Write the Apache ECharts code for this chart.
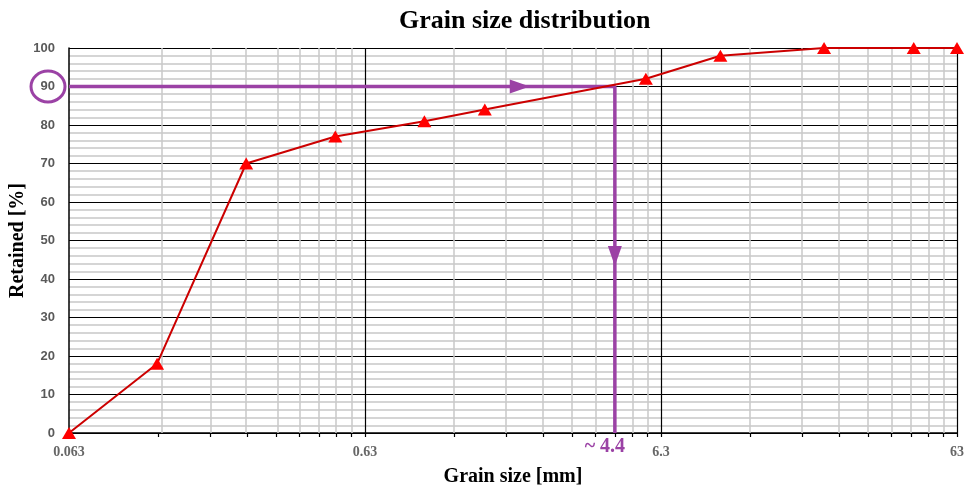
<!DOCTYPE html>
<html>
<head>
<meta charset="utf-8">
<script src="https://cdn.jsdelivr.net/npm/echarts@6/dist/echarts.min.js"></script>
<style>
  html, body { margin: 0; padding: 0; background: #fff; }
  #chart { width: 966px; height: 490px; }
</style>
</head>
<body>
<div id="chart"></div>
<script>
// Sieve sizes [mm] and cumulative retained percentages
const grainSizes = [0.063, 0.125, 0.25, 0.5, 1, 1.6, 5.6, 10, 22.4, 45, 63];
const retained   = [0, 18, 70, 77, 81, 84, 92, 98, 100, 100, 100];

// Decade tick values and their labels on the size axis
const sizeTicks  = [0.063, 0.63, 6.3, 63];
const sizeLabels = ['0.063', '0.63', '6.3', '63'];

// Read-off annotation: 90 % retained reached at about 4.4 mm
const readLevel = 90;
const readSize = 4.4;
const readLabel = '~ 4.4';
const arrowRightAt = [2.1, 90];
const arrowDownAt = [4.4, 46];

const PURPLE = '#9b42a5';
const SERIF = '"Liberation Serif", "Times New Roman", serif';

// Minor positions: 2..9 times each decade start
const minorSizes = [];
for (let d = 0; d < sizeTicks.length - 1; d++) {
  for (let k = 2; k <= 9; k++) minorSizes.push(+(sizeTicks[d] * k).toPrecision(6));
}
const allTicks = sizeTicks.concat(minorSizes).sort((a, b) => a - b);

const gridLines = minorSizes.map(v => ({ xAxis: v, lineStyle: { color: '#c8c8c8', width: 1.5, type: 'solid' } }))
  .concat(sizeTicks.slice(1).map(v => ({ xAxis: v, lineStyle: { color: '#000', width: 1.2, type: 'solid' } })));

function sizeLabel(v) {
  let best = 0;
  sizeTicks.forEach((t, i) => { if (Math.abs(Math.log10(v / t)) < Math.abs(Math.log10(v / sizeTicks[best]))) best = i; });
  return sizeLabels[best];
}

const chart = echarts.init(document.getElementById('chart'), null, { renderer: 'canvas' });
const GRID_LEFT = 69;

chart.setOption({
  animation: false,
  backgroundColor: '#fff',
  title: {
    text: 'Grain size distribution',
    left: 394, top: 3,
    textStyle: { fontFamily: SERIF, fontWeight: 'bold', fontSize: 26, color: '#000' }
  },
  grid: { left: GRID_LEFT, right: 9, top: 48, bottom: 57, outerBoundsMode: 'none', containLabel: false },
  xAxis: {
    type: 'log',
    logBase: 10,
    min: sizeTicks[0],
    max: sizeTicks[sizeTicks.length - 1],
    name: 'Grain size [mm]',
    nameLocation: 'middle',
    nameGap: 34,
    nameMoveOverlap: false,
    nameTextStyle: { fontFamily: SERIF, fontWeight: 'bold', fontSize: 20, color: '#000' },
    axisLine: { show: true, onZero: false, lineStyle: { color: '#000', width: 1.5 } },
    axisTick: { show: true, customValues: allTicks, length: 4, lineStyle: { color: '#000', width: 1.2 } },
    axisLabel: {
      customValues: sizeTicks, margin: 12, formatter: v => sizeLabel(v),
      fontFamily: SERIF, fontWeight: 'bold', fontSize: 14, color: '#666'
    },
    splitLine: { show: false }
  },
  yAxis: {
    type: 'value',
    min: 0, max: 100, interval: 10,
    name: 'Retained [%]',
    nameLocation: 'middle',
    nameGap: 41,
    nameMoveOverlap: false,
    nameTextStyle: { fontFamily: SERIF, fontWeight: 'bold', fontSize: 20, color: '#000' },
    axisLine: { show: true, lineStyle: { color: '#000', width: 1.5 } },
    axisTick: { show: false },
    axisLabel: { margin: 14, fontFamily: '"Liberation Sans", Arial, sans-serif', fontWeight: 'bold', fontSize: 13, color: '#595959' },
    splitLine: { show: true, lineStyle: { color: '#000', width: 1.2 } },
    minorTick: { show: false, splitNumber: 5 },
    minorSplitLine: { show: true, lineStyle: { color: '#c8c8c8', width: 1.5 } }
  },
  series: [
    {
      name: 'grid',
      type: 'line',
      data: [],
      z: 1,
      silent: true,
      markLine: { z: 1, silent: true, symbol: 'none', label: { show: false }, animation: false, data: gridLines }
    },
    {
      name: 'Retained',
      type: 'line',
      z: 5,
      data: grainSizes.map((s, i) => [s, retained[i]]),
      lineStyle: { color: '#cc0000', width: 2 },
      symbol: 'triangle',
      symbolSize: [14, 12],
      itemStyle: { color: '#ff0000', opacity: 1 },
      showSymbol: true
    },
    {
      name: 'readoff',
      type: 'line',
      z: 4,
      data: [[sizeTicks[0], readLevel], [readSize, readLevel], [readSize, 0]],
      lineStyle: { color: PURPLE, width: 3.5, opacity: 1 },
      symbol: 'none'
    },
    {
      name: 'arrows',
      type: 'scatter',
      z: 6,
      symbol: 'triangle',
      data: [
        { value: arrowRightAt, symbolRotate: -90 },
        { value: arrowDownAt, symbolRotate: 180 }
      ],
      symbolSize: [14, 20],
      itemStyle: { color: PURPLE, opacity: 1 }
    },
    {
      name: 'readLabel',
      type: 'scatter',
      z: 6,
      symbolSize: 0,
      data: [[readSize, 0]],
      itemStyle: { opacity: 1 },
      label: {
        show: true, position: 'bottom', distance: 4, offset: [-10, 0],
        formatter: readLabel,
        fontFamily: SERIF, fontWeight: 'bold', fontSize: 20, color: PURPLE, opacity: 1
      }
    }
  ]
});

// Ring around the 90 % axis label
const cy = chart.convertToPixel({ yAxisIndex: 0 }, readLevel);
chart.setOption({
  graphic: [{
    type: 'ellipse',
    shape: { cx: GRID_LEFT - 21, cy: cy, rx: 17, ry: 15.5 },
    style: { fill: 'none', stroke: PURPLE, lineWidth: 3 },
    z: 10
  }]
});
</script>
</body>
</html>
